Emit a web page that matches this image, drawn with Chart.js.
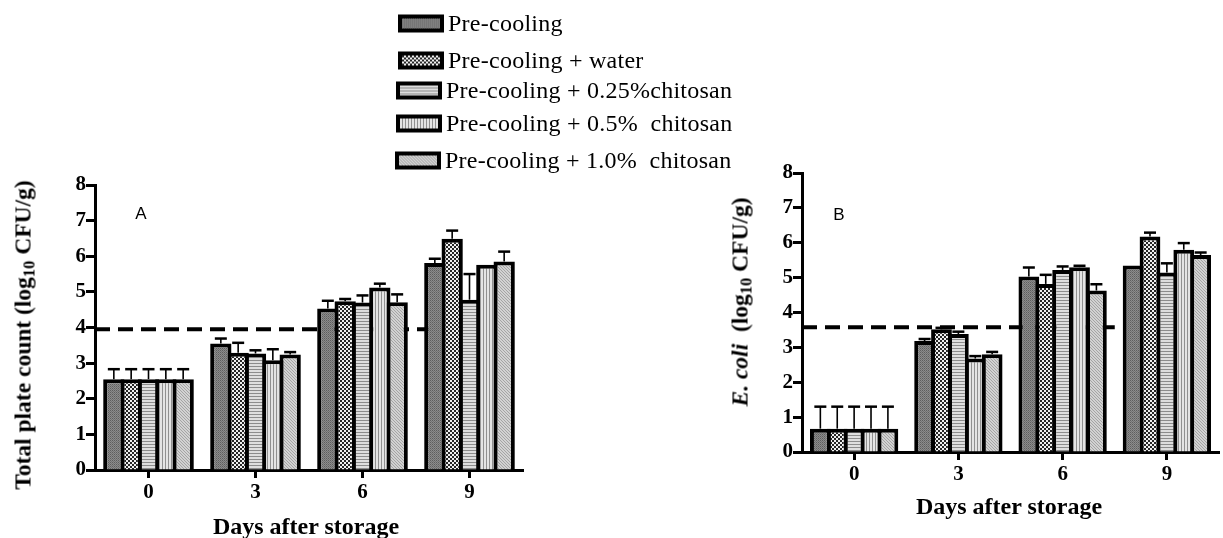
<!DOCTYPE html>
<html><head><meta charset="utf-8">
<script src="https://cdn.jsdelivr.net/npm/chart.js@4.4.1/dist/chart.umd.min.js"></script>
<style>
html,body{margin:0;padding:0;background:#fff;width:1223px;height:538px;overflow:hidden;position:relative;font-family:"Liberation Serif","Times New Roman",serif;color:#000;}
canvas.chart{position:absolute;top:0;}
#cA{left:0;}
#cB{left:620px;}
.ytitle{position:absolute;font-weight:bold;font-size:23.5px;white-space:pre;transform:translate(-50%,-50%) rotate(-90deg);}
.xtitle{position:absolute;font-weight:bold;font-size:24px;white-space:nowrap;transform:translate(-50%,-50%);}
.panel{position:absolute;font-family:"Liberation Sans",Arial,sans-serif;font-size:17px;transform:translate(-50%,-50%);}
.lrow{position:absolute;display:flex;align-items:center;transform:translateY(-50%);}
.lrow span{font-size:24px;letter-spacing:0.25px;white-space:pre;margin-left:4px;}
sub{font-size:0.7em;vertical-align:-0.25em;line-height:0;}
</style>
</head><body>
<canvas id="cA" class="chart" width="540" height="538"></canvas>
<canvas id="cB" class="chart" width="603" height="538"></canvas>
<div id="legend"></div>
<div class="ytitle" style="left:23px;top:335px;">Total plate count (log<sub>10</sub> CFU/g)</div>
<div class="ytitle" style="left:740px;top:302px;"><i>E. coli</i>  (log<sub>10</sub> CFU/g)</div>
<div class="xtitle" style="left:306px;top:526px;">Days after storage</div>
<div class="xtitle" style="left:1009px;top:506px;">Days after storage</div>
<div class="panel" style="left:141px;top:214px;">A</div>
<div class="panel" style="left:839px;top:215px;">B</div>
<script>
// ---------- DATA ----------
const days = ['0', '3', '6', '9'];
const seriesNames = ['Pre-cooling', 'Pre-cooling + water', 'Pre-cooling + 0.25%chitosan', 'Pre-cooling + 0.5%  chitosan', 'Pre-cooling + 1.0%  chitosan'];
const yTicks = [0, 1, 2, 3, 4, 5, 6, 7, 8];

// Panel A: Total plate count (log10 CFU/g)
const tpcPreCooling = [2.55, 3.55, 4.53, 5.81];
const tpcWater      = [2.55, 3.29, 4.74, 6.49];
const tpcChit025    = [2.55, 3.27, 4.70, 4.78];
const tpcChit05     = [2.55, 3.08, 5.12, 5.76];
const tpcChit10     = [2.55, 3.24, 4.71, 5.85];
const tpcErrPreCooling = [0.28, 0.14, 0.22, 0.12];
const tpcErrWater      = [0.28, 0.28, 0.06, 0.23];
const tpcErrChit025    = [0.28, 0.09, 0.20, 0.72];
const tpcErrChit05     = [0.28, 0.31, 0.11, 0.00];
const tpcErrChit10     = [0.28, 0.07, 0.22, 0.28];
const tpcLimit = 3.95;

// Panel B: E. coli (log10 CFU/g)
const ecPreCooling = [0.67, 3.18, 5.03, 5.35];
const ecWater      = [0.67, 3.52, 4.82, 6.18];
const ecChit025    = [0.67, 3.38, 5.22, 5.15];
const ecChit05     = [0.67, 2.68, 5.30, 5.80];
const ecChit10     = [0.67, 2.80, 4.63, 5.65];
const ecErrPreCooling = [0.63, 0.06, 0.26, 0.00];
const ecErrWater      = [0.63, 0.04, 0.26, 0.11];
const ecErrChit025    = [0.63, 0.07, 0.10, 0.26];
const ecErrChit05     = [0.63, 0.07, 0.04, 0.19];
const ecErrChit10     = [0.63, 0.07, 0.18, 0.07];
const ecLimit = 3.58;

// ---------- PATTERNS ----------
function tile(w, h, draw) {
  const c = document.createElement('canvas'); c.width = w; c.height = h;
  const g = c.getContext('2d'); draw(g);
  return c;
}
const tiles = [
  tile(2, 2, g => { g.fillStyle = '#8c8c8c'; g.fillRect(0,0,2,2); g.fillStyle = '#5e5e5e'; g.fillRect(0,0,1,1); g.fillStyle = '#727272'; g.fillRect(1,1,1,1); }),
  tile(4, 4, g => { g.fillStyle = '#f0f0f0'; g.fillRect(0,0,4,4); g.fillStyle = '#262626'; g.fillRect(0,0,2,2); g.fillRect(2,2,2,2); }),
  tile(3, 3, g => { g.fillStyle = '#dedede'; g.fillRect(0,0,3,3); g.fillStyle = '#8c8c8c'; g.fillRect(0,0,3,1); }),
  tile(3, 3, g => { g.fillStyle = '#e4e4e4'; g.fillRect(0,0,3,3); g.fillStyle = '#909090'; g.fillRect(0,0,1,3); }),
  tile(3, 3, g => { g.fillStyle = '#d2d2d2'; g.fillRect(0,0,3,3); g.fillStyle = '#a4a4a4'; g.fillRect(0,0,1,1); g.fillRect(1,1,1,1); g.fillRect(2,2,1,1); })
];
const pctx = document.createElement('canvas').getContext('2d');
const patterns = tiles.map(t => pctx.createPattern(t, 'repeat'));

// ---------- LEGEND ----------
const legendPos = [[398, 23], [398, 60], [396, 90], [396, 123], [395, 160]];
const legend = document.getElementById('legend');
seriesNames.forEach((name, i) => {
  const row = document.createElement('div');
  row.className = 'lrow';
  row.style.left = legendPos[i][0] + 'px';
  row.style.top = legendPos[i][1] + 'px';
  const sw = document.createElement('canvas');
  sw.width = 46; sw.height = 18;
  const g = sw.getContext('2d');
  g.fillStyle = g.createPattern(tiles[i], 'repeat');
  g.fillRect(0, 0, 46, 18);
  g.strokeStyle = '#000'; g.lineWidth = 4; g.strokeRect(2, 2, 42, 14);
  const sp = document.createElement('span');
  sp.textContent = name;
  row.appendChild(sw); row.appendChild(sp);
  legend.appendChild(row);
});

// ---------- PLUGINS ----------
const thresholdPlugin = {
  id: 'threshold',
  beforeDatasetsDraw(chart, args, opts) {
    const ctx = chart.ctx, xs = chart.scales.x, ys = chart.scales.y, ca = chart.chartArea;
    const yy = ys.getPixelForValue(opts.value);
    const xe = xs.getPixelForValue(opts.endIndex);
    ctx.save();
    ctx.strokeStyle = '#000'; ctx.lineWidth = 4; ctx.setLineDash([15, 8]);
    ctx.beginPath(); ctx.moveTo(ca.left, yy); ctx.lineTo(xe, yy); ctx.stroke();
    ctx.restore();
  }
};
const errorPlugin = {
  id: 'errbars',
  afterDatasetsDraw(chart) {
    const ctx = chart.ctx, ys = chart.scales.y;
    chart.data.datasets.forEach((ds, i) => {
      const meta = chart.getDatasetMeta(i);
      meta.data.forEach((bar, j) => {
        const e = ds.errors[j];
        if (!e) return;
        const top = ys.getPixelForValue(ds.data[j] + e);
        ctx.save();
        ctx.strokeStyle = '#000';
        ctx.lineWidth = 1.6;
        ctx.beginPath(); ctx.moveTo(bar.x, bar.y); ctx.lineTo(bar.x, top); ctx.stroke();
        ctx.lineWidth = 2.5;
        ctx.beginPath(); ctx.moveTo(bar.x - 6, top); ctx.lineTo(bar.x + 6, top); ctx.stroke();
        ctx.restore();
      });
    });
  }
};

function makeChart(id, values, errors, limit, geo) {
  const tickFont = { family: 'Liberation Serif', size: 21, weight: 'bold' };
  return new Chart(document.getElementById(id), {
    type: 'bar',
    data: {
      labels: days,
      datasets: seriesNames.map((n, i) => ({
        label: n, data: values[i], errors: errors[i],
        backgroundColor: patterns[i], borderColor: '#000', borderWidth: 4,
        borderSkipped: 'start', categoryPercentage: 0.81, barPercentage: 1.23
      }))
    },
    options: {
      responsive: false, animation: false, devicePixelRatio: 1,
      layout: { padding: { top: geo.top, right: geo.right, left: 0, bottom: 0 } },
      plugins: { legend: { display: false }, tooltip: { enabled: false },
        threshold: { value: limit, endIndex: geo.lineEnd } },
      scales: {
        x: {
          offset: true,
          grid: { offset: false, drawOnChartArea: false, drawTicks: true, tickLength: 8, tickWidth: 3, tickColor: '#000' },
          border: { display: true, color: '#000', width: 3 },
          ticks: { color: '#000', font: tickFont, padding: 2 },
          afterFit: s => { s.height = geo.xh; }
        },
        y: {
          min: 0, max: 8,
          afterBuildTicks: s => { s.ticks = yTicks.map(v => ({ value: v })); },
          grid: { drawOnChartArea: false, drawTicks: true, tickLength: 9, tickWidth: 3, tickColor: '#000' },
          border: { display: true, color: '#000', width: 3 },
          ticks: { color: '#000', font: tickFont, padding: 0 },
          afterFit: s => { s.width = geo.yw; }
        }
      }
    },
    plugins: [thresholdPlugin, errorPlugin]
  });
}

makeChart('cA',
  [tpcPreCooling, tpcWater, tpcChit025, tpcChit05, tpcChit10],
  [tpcErrPreCooling, tpcErrWater, tpcErrChit025, tpcErrChit05, tpcErrChit10],
  tpcLimit, { top: 185, right: 17, yw: 95, xh: 68, lineEnd: 2.62 });

makeChart('cB',
  [ecPreCooling, ecWater, ecChit025, ecChit05, ecChit10],
  [ecErrPreCooling, ecErrWater, ecErrChit025, ecErrChit05, ecErrChit10],
  ecLimit, { top: 173, right: 4, yw: 182, xh: 86, lineEnd: 2.5 });
</script>
</body></html>
